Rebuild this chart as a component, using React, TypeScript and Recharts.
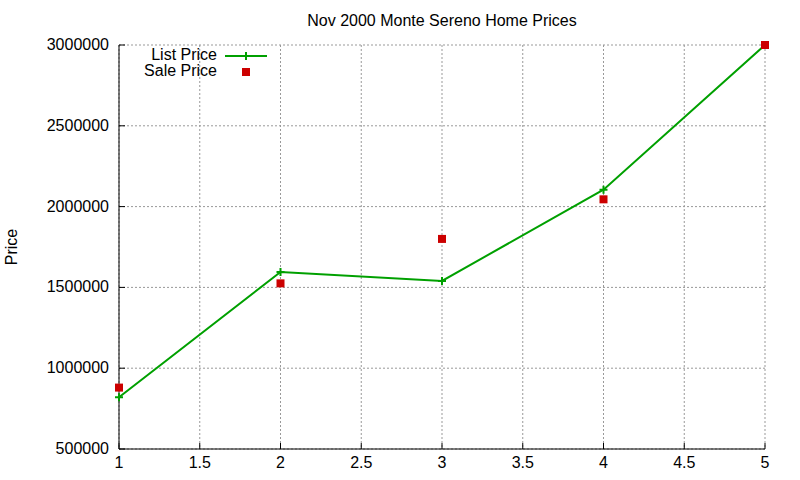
import React from "react";
import { CartesianGrid, Line, LineChart, XAxis, YAxis } from "recharts";

const houses = [1, 2, 3, 4, 5];
const listPrices = [820000, 1595000, 1540000, 2105000, 3000000];
const salePrices = [880000, 1525000, 1800000, 2045000, 3000000];

const xTicks = [1, 1.5, 2, 2.5, 3, 3.5, 4, 4.5, 5];
const yTicks = [500000, 1000000, 1500000, 2000000, 2500000, 3000000];

const GREEN = "#00a000";
const RED = "#cc0000";
const FONT = "'Liberation Sans', Arial, sans-serif";

const data = houses.map((x, i) => ({ x, list: listPrices[i], sale: salePrices[i] }));

const BottomTick = ({ x, y, payload }: any) => (
    <g>
        <line x1={x} y1={y} x2={x} y2={y - 6} stroke="#000" />
        <text x={x} y={y + 19} textAnchor="middle" fontSize={16} fontFamily={FONT} fill="#000">
            {payload.value}
        </text>
    </g>
);

const TopTick = ({ x, y }: any) => <line x1={x} y1={y} x2={x} y2={y + 6} stroke="#000" />;

const LeftTick = ({ x, y, payload }: any) => (
    <g>
        <line x1={x} y1={y} x2={x + 6} y2={y} stroke="#000" />
        <text x={x - 10} y={y + 5} textAnchor="end" fontSize={16} fontFamily={FONT} fill="#000">
            {payload.value}
        </text>
    </g>
);

const RightTick = ({ x, y }: any) => <line x1={x} y1={y} x2={x - 6} y2={y} stroke="#000" />;

const CrossDot = ({ cx, cy }: any) => (
    <path d={`M${cx - 4},${cy}H${cx + 4}M${cx},${cy - 4}V${cy + 4}`} stroke={GREEN} strokeWidth={2} fill="none" />
);

const SquareDot = ({ cx, cy }: any) => <rect x={cx - 4} y={cy - 4} width={8} height={8} fill={RED} />;

const textStyle: React.CSSProperties = { position: "absolute", fontFamily: FONT, fontSize: 16, color: "#000", lineHeight: "16px", whiteSpace: "nowrap" };

export default function App() {
    return (
        <div style={{ position: "absolute", left: 0, top: 0, width: 800, height: 480, background: "#fff" }}>
            <LineChart width={800} height={480} data={data} margin={{ top: 45, right: 35, bottom: 0, left: 0 }}>
                <CartesianGrid stroke="#999" strokeDasharray="2 2" />
                <XAxis
                    dataKey="x"
                    type="number"
                    domain={[1, 5]}
                    ticks={xTicks}
                    height={31}
                    tickSize={0}
                    tickMargin={0}
                    tickLine={false}
                    axisLine={{ stroke: "#000" }}
                    tick={<BottomTick />}
                    interval={0}
                />
                <XAxis
                    xAxisId="top"
                    orientation="top"
                    dataKey="x"
                    type="number"
                    domain={[1, 5]}
                    ticks={xTicks}
                    height={0}
                    tickSize={0}
                    tickMargin={0}
                    tickLine={false}
                    axisLine={{ stroke: "#000" }}
                    tick={<TopTick />}
                    interval={0}
                />
                <YAxis
                    type="number"
                    domain={[500000, 3000000]}
                    ticks={yTicks}
                    width={119}
                    tickSize={0}
                    tickMargin={0}
                    tickLine={false}
                    axisLine={{ stroke: "#000" }}
                    tick={<LeftTick />}
                    interval={0}
                />
                <YAxis
                    yAxisId="right"
                    orientation="right"
                    type="number"
                    domain={[500000, 3000000]}
                    ticks={yTicks}
                    width={0}
                    tickSize={0}
                    tickMargin={0}
                    tickLine={false}
                    axisLine={{ stroke: "#000" }}
                    tick={<RightTick />}
                    interval={0}
                />
                <Line dataKey="list" name="List Price" stroke={GREEN} strokeWidth={2} dot={<CrossDot />} activeDot={false} isAnimationActive={false} />
                <Line dataKey="sale" name="Sale Price" stroke="none" dot={<SquareDot />} activeDot={false} isAnimationActive={false} />
            </LineChart>

            <div style={{ ...textStyle, left: 0, width: 884, top: 13, textAlign: "center" }}>Nov 2000 Monte Sereno Home Prices</div>
            <div style={{ ...textStyle, left: 12, top: 247, transform: "translate(-50%, -50%) rotate(-90deg)" }}>Price</div>

            <div style={{ ...textStyle, right: 800 - 217, top: 47, textAlign: "right" }}>List Price</div>
            <div style={{ ...textStyle, right: 800 - 217, top: 63, textAlign: "right" }}>Sale Price</div>
            <svg style={{ position: "absolute", left: 0, top: 0 }} width={300} height={90}>
                <line x1={225} y1={56} x2={267} y2={56} stroke={GREEN} strokeWidth={2} />
                <CrossDot cx={246} cy={56} />
                <SquareDot cx={246} cy={72} />
            </svg>
        </div>
    );
}
